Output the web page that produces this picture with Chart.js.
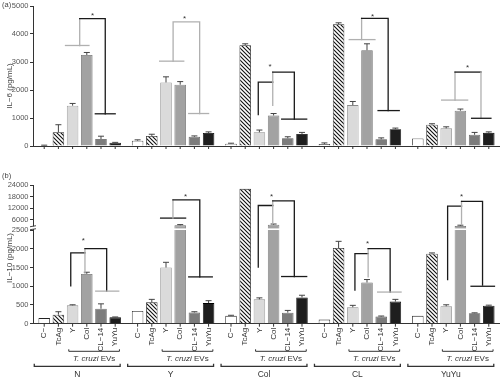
<!DOCTYPE html>
<html>
<head>
<meta charset="utf-8">
<script src="https://cdn.jsdelivr.net/npm/chart.js@4.4.0/dist/chart.umd.min.js"></script>
<style>
  body { margin: 0; background: #fff; }
  #wrapA { position: absolute; left: 0; top: 0; width: 500px; height: 165px; }
  #wrapB { position: absolute; left: 0; top: 165px; width: 500px; height: 222px; }
</style>
</head>
<body>
<div id="wrapA"><canvas id="chartA"></canvas></div>
<div id="wrapB"><canvas id="chartB"></canvas></div>
<script>
const groups = ['N', 'Y', 'Col', 'CL', 'YuYu'];
const treatments = ['C−', 'TcAg', 'Y', 'Col', 'CL−14', 'YuYu'];

// IL-6 (pg/mL) per treatment, in group order
const il6C     = [20, 190, 80, 70, 270];
const il6TcAg  = [490, 360, 3600, 4350, 760];
const il6Y     = [1440, 2270, 490, 1460, 630];
const il6Col   = [3250, 2190, 1090, 3420, 1260];
const il6CL14  = [250, 330, 275, 240, 400];
const il6YuYu  = [120, 465, 430, 600, 470];
// error (upper arm)
const il6CErr    = [10, 30, 20, 40, 0];
const il6TcAgErr = [270, 60, 50, 50, 35];
const il6YErr    = [80, 200, 80, 130, 55];
const il6ColErr  = [90, 110, 70, 230, 60];
const il6CL14Err = [100, 30, 55, 50, 85];
const il6YuYuErr = [10, 40, 55, 40, 35];

// IL-10 (pg/mL)
const il10C     = [150, 340, 210, 110, 210];
const il10TcAg  = [240, 570, 22000, 2020, 1870];
const il10Y     = [490, 1500, 650, 440, 465];
const il10Col   = [1330, 4100, 4300, 1100, 3900];
const il10CL14  = [400, 300, 295, 190, 280];
const il10YuYu  = [170, 550, 700, 590, 480];
const il10CErr    = [0, 0, 15, 0, 0];
const il10TcAgErr = [80, 80, 0, 180, 20];
const il10YErr    = [15, 140, 40, 50, 40];
const il10ColErr  = [45, 250, 250, 80, 250];
const il10CL14Err = [130, 20, 60, 15, 10];
const il10YuYuErr = [10, 65, 60, 60, 15];

const il6Ticks  = [0, 1000, 2000, 3000, 4000, 5000];
const il10Ticks = [0, 500, 1000, 1500, 2000, 2500, 6000, 12000, 18000, 24000];

// significance brackets: g = group, p = bar position inside group (0..5), v = value
const il6Brackets = [
  { g: 0, c: 'g', pts: [[1.5, 3590], [3.15, 3590]] },
  { g: 0, c: 'g', pts: [[2.5, 3590], [2.5, 4550]] },
  { g: 0, c: 'k', pts: [[2.5, 4550], [4.3, 4550], [4.3, 1150]] },
  { g: 0, c: 'k', pts: [[3.6, 1150], [5.0, 1150]] },
  { g: 1, c: 'g', pts: [[1.55, 3030], [3.25, 3030]] },
  { g: 1, c: 'g', pts: [[2.5, 3030], [2.5, 4430], [4.37, 4430], [4.37, 1160]] },
  { g: 1, c: 'g', pts: [[3.6, 1160], [5.0, 1160]] },
  { g: 2, c: 'k', pts: [[1.92, 1120], [1.92, 2280], [2.94, 2280]] },
  { g: 2, c: 'g', pts: [[2.94, 1450], [2.94, 2640]] },
  { g: 2, c: 'k', pts: [[2.94, 2640], [4.46, 2640], [4.46, 960]] },
  { g: 2, c: 'k', pts: [[3.57, 960], [5.33, 960]] },
  { g: 3, c: 'g', pts: [[1.75, 3800], [3.56, 3800]] },
  { g: 3, c: 'g', pts: [[2.62, 3800], [2.62, 4560]] },
  { g: 3, c: 'k', pts: [[2.62, 4560], [4.49, 4560], [4.49, 1265]] },
  { g: 3, c: 'k', pts: [[3.78, 1265], [5.27, 1265]] },
  { g: 4, c: 'g', pts: [[1.68, 1640], [3.51, 1640]] },
  { g: 4, c: 'g', pts: [[2.62, 1640], [2.62, 2640]] },
  { g: 4, c: 'k', pts: [[2.62, 2640], [4.45, 2640]] },
  { g: 4, c: 'g', pts: [[4.45, 2640], [4.45, 990]] },
  { g: 4, c: 'k', pts: [[3.79, 990], [5.15, 990]] }
];
const il6Stars = [[0, 3.4, 4720], [1, 3.3, 4600], [2, 2.75, 2900], [3, 3.4, 4680], [4, 3.5, 2850]];

const il10Brackets = [
  { g: 0, c: 'k', pts: [[1.87, 1010], [1.87, 1894], [2.87, 1894]] },
  { g: 0, c: 'g', pts: [[2.87, 1350], [2.87, 2005]] },
  { g: 0, c: 'k', pts: [[2.87, 2005], [4.4, 2005], [4.4, 870]] },
  { g: 0, c: 'g', pts: [[3.63, 870], [5.25, 870]] },
  { g: 1, c: 'k', pts: [[1.62, 6830], [3.38, 6830]] },
  { g: 1, c: 'g', pts: [[2.49, 6830], [2.49, 16300]] },
  { g: 1, c: 'k', pts: [[2.49, 16300], [4.38, 16300], [4.38, 1250]] },
  { g: 1, c: 'k', pts: [[3.6, 1250], [5.26, 1250]] },
  { g: 2, c: 'k', pts: [[1.92, 1515], [1.92, 13360], [2.94, 13360]] },
  { g: 2, c: 'g', pts: [[2.94, 4700], [2.94, 15800]] },
  { g: 2, c: 'k', pts: [[2.94, 15800], [4.46, 15800], [4.46, 1260]] },
  { g: 2, c: 'k', pts: [[3.57, 1260], [5.33, 1260]] },
  { g: 3, c: 'k', pts: [[2.15, 900], [2.15, 1870], [3.08, 1870]] },
  { g: 3, c: 'g', pts: [[3.08, 1250], [3.08, 2005]] },
  { g: 3, c: 'k', pts: [[3.08, 2005], [4.63, 2005], [4.63, 845]] },
  { g: 3, c: 'g', pts: [[3.75, 845], [5.4, 845]] },
  { g: 4, c: 'k', pts: [[2.1, 1180], [2.1, 13060], [3.08, 13060]] },
  { g: 4, c: 'g', pts: [[3.08, 4500], [3.08, 15500]] },
  { g: 4, c: 'k', pts: [[3.08, 15500], [4.56, 15500], [4.56, 1030]] },
  { g: 4, c: 'k', pts: [[3.75, 1000], [5.4, 1000]] }
];
const il10Stars = [[0, 2.76, 2270], [1, 3.38, 19100], [2, 2.85, 19100], [3, 3.04, 2190], [4, 3.08, 18750]];

const fills = ['#ffffff', null, '#dadada', '#a2a2a2', '#7c7c7c', '#1e1e1e'];
const edges = ['#222', '#222', '#8a8a8a', '#6a6a6a', '#555', '#000'];

Chart.defaults.font.family = '"Liberation Sans", Arial, sans-serif';
Chart.defaults.font.size = 7.5;
Chart.defaults.color = '#555';

// y scale with a squeezed gap between 2500 and 6000 and a compressed upper part
class BrokenScale extends Chart.LinearScale {
  toUnit(v) {
    if (v <= 2500) return v / 2500 * 99;
    if (v <= 6000) return 99 + (v - 2500) / 3500 * 11;
    return 110 + (v - 6000) / 18000 * 36.7;
  }
  getPixelForValue(v) {
    const f = this.toUnit(v) / this.toUnit(this.max);
    return this.bottom - f * (this.bottom - this.top);
  }
  getValueForPixel(px) {
    const u = (this.bottom - px) / (this.bottom - this.top) * this.toUnit(this.max);
    if (u <= 99) return u / 99 * 2500;
    if (u <= 110) return 2500 + (u - 99) / 11 * 3500;
    return 6000 + (u - 110) / 36.7 * 18000;
  }
}
BrokenScale.id = 'broken';
BrokenScale.defaults = Chart.LinearScale.defaults;
Chart.register(BrokenScale);

function hatch(ctx) {
  const c = document.createElement('canvas');
  c.width = 4; c.height = 4;
  const h = c.getContext('2d');
  h.fillStyle = '#fff';
  h.fillRect(0, 0, 4, 4);
  h.strokeStyle = '#111';
  h.lineWidth = 1.1;
  h.beginPath();
  h.moveTo(-1, -1); h.lineTo(5, 5);
  h.moveTo(-1, 3); h.lineTo(1, 5);
  h.moveTo(3, -1); h.lineTo(5, 1);
  h.stroke();
  return ctx.createPattern(c, 'repeat');
}

function makeDatasets(series, pattern) {
  return treatments.map((t, i) => ({
    label: t,
    data: series[i],
    backgroundColor: i === 1 ? pattern : fills[i],
    borderColor: edges[i],
    borderWidth: 0.8,
    categoryPercentage: 0.912,
    barPercentage: 0.81
  }));
}

function xAt(chart, g, p) {
  const a = chart.getDatasetMeta(0).data[g].x;
  const b = chart.getDatasetMeta(5).data[g].x;
  return a + (b - a) * p / 5;
}

function overlay(o) {
  return {
    id: 'overlay',
    afterDatasetsDraw(chart) {
      const ctx = chart.ctx, y = chart.scales.y, area = chart.chartArea;
      ctx.save();
      // white cut on bars passing the axis break
      if (o.cutAt) {
        ctx.fillStyle = '#fff';
        o.series.forEach((vals, i) => {
          chart.getDatasetMeta(i).data.forEach((bar, g) => {
            if (vals[g] > o.cutAt && i !== 1) {
              const yy = y.getPixelForValue(o.cutAt);
              ctx.fillRect(bar.x - bar.width / 2 - 1, yy - 0.8, bar.width + 2, 1.6);
            }
          });
        });
      }
      // error bars
      ctx.strokeStyle = '#444';
      ctx.lineWidth = 1;
      o.errors.forEach((errs, i) => {
        chart.getDatasetMeta(i).data.forEach((bar, g) => {
          if (!errs[g]) return;
          const top = y.getPixelForValue(o.series[i][g] + errs[g]);
          ctx.beginPath();
          ctx.moveTo(bar.x, bar.y);
          ctx.lineTo(bar.x, top);
          ctx.moveTo(bar.x - 3, top);
          ctx.lineTo(bar.x + 3, top);
          ctx.stroke();
        });
      });
      // small ticks under bars
      ctx.strokeStyle = '#333';
      treatments.forEach((t, i) => chart.getDatasetMeta(i).data.forEach(bar => {
        ctx.beginPath();
        ctx.moveTo(bar.x, area.bottom);
        ctx.lineTo(bar.x, area.bottom + 3);
        ctx.stroke();
      }));
      // brackets
      ctx.lineWidth = 1.3;
      ctx.lineCap = 'square';
      o.brackets.forEach(b => {
        ctx.strokeStyle = b.c === 'k' ? '#1a1a1a' : '#b0b0b0';
        ctx.beginPath();
        b.pts.forEach(([p, v], k) => {
          const px = xAt(chart, b.g, p), py = y.getPixelForValue(v);
          if (k) ctx.lineTo(px, py); else ctx.moveTo(px, py);
        });
        ctx.stroke();
      });
      ctx.fillStyle = '#333';
      ctx.font = '8px "Liberation Sans"';
      ctx.textAlign = 'center';
      ctx.textBaseline = 'middle';
      o.stars.forEach(([g, p, v]) => ctx.fillText('*', xAt(chart, g, p), y.getPixelForValue(v) + 2));
      ctx.restore();
    },
    afterDraw(chart) {
      const ctx = chart.ctx, area = chart.chartArea;
      ctx.save();
      ctx.fillStyle = '#444';
      ctx.font = '7.5px "Liberation Sans"';
      ctx.textAlign = 'left';
      ctx.textBaseline = 'middle';
      ctx.fillText(o.letter, 2, o.letterY);
      ctx.font = '8px "Liberation Sans"';
      ctx.save();
      ctx.translate(10, o.titleY);
      ctx.rotate(-Math.PI / 2);
      ctx.textAlign = 'center';
      ctx.fillText(o.title, 0, 0);
      ctx.restore();
      if (o.cutAt) {
        // axis break mark
        const yb = chart.scales.y.getPixelForValue(3300);
        const ax = area.left;
        ctx.fillStyle = '#fff';
        ctx.fillRect(ax - 1.5, yb - 1.4, 3, 2.8);
        ctx.strokeStyle = '#333';
        ctx.lineWidth = 0.9;
        ctx.beginPath();
        ctx.moveTo(ax - 3, yb - 1); ctx.lineTo(ax + 3, yb - 2);
        ctx.moveTo(ax - 3, yb + 2); ctx.lineTo(ax + 3, yb + 1);
        ctx.stroke();
      }
      if (o.labels) {
        ctx.fillStyle = '#333';
        ctx.font = '8px "Liberation Sans"';
        treatments.forEach((t, i) => chart.getDatasetMeta(i).data.forEach(bar => {
          ctx.save();
          ctx.translate(bar.x, area.bottom + 4);
          ctx.rotate(-Math.PI / 2);
          ctx.textAlign = 'right';
          ctx.textBaseline = 'middle';
          ctx.fillText(t, 0, 0);
          ctx.restore();
        }));
        ctx.strokeStyle = '#333';
        ctx.lineWidth = 1;
        groups.forEach((name, g) => {
          // T. cruzi EVs bracket
          const l1 = xAt(chart, g, 1.73), r1 = xAt(chart, g, 5.3), y1 = area.bottom + 27.6;
          ctx.beginPath();
          ctx.moveTo(l1, y1 - 2); ctx.lineTo(l1, y1); ctx.lineTo(r1, y1); ctx.lineTo(r1, y1 - 2);
          ctx.stroke();
          ctx.textBaseline = 'middle';
          ctx.textAlign = 'left';
          ctx.font = 'italic 8px "Liberation Sans"';
          const w1 = ctx.measureText('T. cruzi ').width;
          ctx.font = '8px "Liberation Sans"';
          const w2 = ctx.measureText('EVs').width;
          const sx = (l1 + r1) / 2 - (w1 + w2) / 2;
          ctx.font = 'italic 8px "Liberation Sans"';
          ctx.fillText('T. cruzi ', sx, y1 + 7.5);
          ctx.font = '8px "Liberation Sans"';
          ctx.fillText('EVs', sx + w1, y1 + 7.5);
          // group bracket
          const l2 = xAt(chart, g, -0.7), r2 = xAt(chart, g, 5.35), y2 = area.bottom + 42.6;
          ctx.lineWidth = 1.3;
          ctx.beginPath();
          ctx.moveTo(l2, y2 - 2.5); ctx.lineTo(l2, y2); ctx.lineTo(r2, y2); ctx.lineTo(r2, y2 - 2.5);
          ctx.stroke();
          ctx.lineWidth = 1;
          ctx.textAlign = 'center';
          ctx.font = '8.5px "Liberation Sans"';
          ctx.fillText(name, (l2 + r2) / 2, area.bottom + 51.3);
        });
      }
      ctx.restore();
    }
  };
}

function yAxis(ticks, extra) {
  return Object.assign({
    min: 0,
    afterBuildTicks: s => { s.ticks = ticks.map(v => ({ value: v })); },
    afterFit: s => { s.width = 33; },
    ticks: { callback: v => String(v), padding: 1.5, color: '#555' },
    grid: { drawOnChartArea: false, drawTicks: true, tickLength: 3, color: '#333' },
    border: { color: '#333', width: 1 }
  }, extra);
}

const xAxis = {
  type: 'category',
  grid: { display: false },
  ticks: { display: false },
  border: { display: true, color: '#333', width: 1 }
};

const ctxA = document.getElementById('chartA').getContext('2d');
const seriesA = [il6C, il6TcAg, il6Y, il6Col, il6CL14, il6YuYu];
new Chart(ctxA, {
  type: 'bar',
  data: { labels: groups, datasets: makeDatasets(seriesA, hatch(ctxA)) },
  options: {
    responsive: true,
    maintainAspectRatio: false,
    animation: false,
    layout: { padding: { top: 3, right: 0, bottom: 11, left: 0 } },
    plugins: { legend: { display: false }, tooltip: { enabled: false } },
    scales: { x: xAxis, y: yAxis(il6Ticks, { max: 5000 }) }
  },
  plugins: [overlay({
    series: seriesA,
    errors: [il6CErr, il6TcAgErr, il6YErr, il6ColErr, il6CL14Err, il6YuYuErr],
    brackets: il6Brackets, stars: il6Stars,
    letter: '(a)', letterY: 5, title: 'IL−6 (pg/mL)', titleY: 86
  })]
});

const ctxB = document.getElementById('chartB').getContext('2d');
const seriesB = [il10C, il10TcAg, il10Y, il10Col, il10CL14, il10YuYu];
new Chart(ctxB, {
  type: 'bar',
  data: { labels: groups, datasets: makeDatasets(seriesB, hatch(ctxB)) },
  options: {
    responsive: true,
    maintainAspectRatio: false,
    animation: false,
    layout: { padding: { top: 20, right: 0, bottom: 55.3, left: 0 } },
    plugins: { legend: { display: false }, tooltip: { enabled: false } },
    scales: { x: xAxis, y: yAxis(il10Ticks, { type: 'broken', max: 24000 }) }
  },
  plugins: [overlay({
    series: seriesB,
    errors: [il10CErr, il10TcAgErr, il10YErr, il10ColErr, il10CL14Err, il10YuYuErr],
    brackets: il10Brackets, stars: il10Stars, cutAt: 2800, labels: true,
    letter: '(b)', letterY: 11, title: 'IL−10 (pg/mL)', titleY: 93
  })]
});
</script>
</body>
</html>
